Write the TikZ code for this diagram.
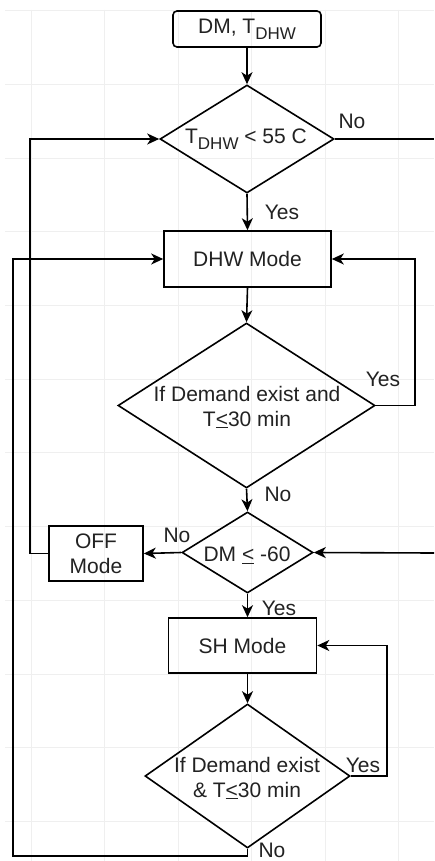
\documentclass[tikz,border=0pt]{standalone}
\usepackage{fontspec}
\setmainfont{Liberation Sans}
\usetikzlibrary{shapes.geometric,arrows.meta}
\definecolor{txt}{HTML}{222222}
\definecolor{gridc}{HTML}{EFEFEF}
\newcommand{\subdhw}{\raisebox{-6pt}{\fontsize{17}{17}\selectfont DHW}}
\begin{document}
\begin{tikzpicture}[x=1pt,y=-1pt,
  every node/.style={font=\fontsize{21}{25}\selectfont, text=txt, inner sep=0pt},
  box/.style={draw, line width=1.6pt, rectangle},
  dia/.style={draw, line width=1.6pt, diamond},
  lbl/.style={anchor=center},
  line/.style={line width=1.6pt},
  arr/.style={line width=1.6pt, -{Stealth[length=12pt,width=11pt,inset=3.5pt]}}]
\useasboundingbox[fill=white] (0,0) rectangle (434,861);
% background grid
\foreach \gx in {31,104.5,178,251.5,325,398.5} \draw[gridc, line width=0.8pt] (\gx,10) -- (\gx,861);
\foreach \gy in {10.5,84.2,158,231.7,305.4,379,452.8,526.5,600.2,674,747.6,821.3} \draw[gridc, line width=0.8pt] (5,\gy) -- (434,\gy);
% nodes
\node[box, rounded corners=4pt, minimum width=148pt, minimum height=36pt] (start) at (247,29) {DM, T\subdhw};
\node[dia, minimum width=174pt, minimum height=108pt] (d1) at (247,139) {};
\node (t1) at (246,139) {T\subdhw{} < 55 C};
\node[box, minimum width=167pt, minimum height=56pt] (dhw) at (247.5,259) {DHW Mode};
\node[dia, minimum width=257pt, minimum height=165pt] (d2) at (246.5,405.5) {};
\node[align=center] (t2) at (247,407) {If Demand exist and\\T\underline{<}30 min};
\node[dia, minimum width=131pt, minimum height=81pt] (d3) at (247.5,552.5) {};
\node (t3) at (247,555) {DM \underline{<} -60};
\node[box, minimum width=94pt, minimum height=55pt, align=center] (off) at (96,553.5) {OFF\\Mode};
\node[box, minimum width=148pt, minimum height=55pt] (sh) at (242.5,645.5) {SH Mode};
\node[dia, minimum width=205pt, minimum height=144pt] (d4) at (247.5,776) {};
\node[align=center] (t4) at (247,778) {If Demand exist\\\& T\underline{<}30 min};
\coordinate (r1) at (434,139);
\coordinate (r2) at (434,553);
\coordinate (lb) at (13,856);
% connectors
\draw[arr] (start.south) -- (d1.north);
\draw[arr] (d1.south) -- (dhw.north);
\draw[line] (d1.east) -- (r1);
\draw[arr] (dhw.south) -- (d2.north);
\draw[arr] (d2.east) -- ++(39,0) |- (dhw.east);
\draw[arr] (d2.south) -- (d3.north);
\draw[arr] (r2) -- (d3.east);
\draw[arr] (d3.west) -- (off.east);
\draw[arr] (off.west) -- ++(-18,0) |- (d1.west);
\draw[arr] (d3.south) -- (d3.south |- sh.north);
\draw[arr] (d3.south |- sh.south) -- (d4.north);
\draw[arr] (d4.east) -- ++(36,0) |- (sh.east);
\draw[arr] (d4.south) |- (lb) |- (dhw.west);
% labels
\node[lbl] (l1) at (352,121) {No};
\node[lbl] (l2) at (282,212) {Yes};
\node[lbl] (l3) at (383,379) {Yes};
\node[lbl] (l4) at (278,494) {No};
\node[lbl] (l5) at (177,535) {No};
\node[lbl] (l6) at (279,608) {Yes};
\node[lbl] (l7) at (363,765) {Yes};
\node[lbl] (l8) at (272,850) {No};
\end{tikzpicture}
\end{document}
